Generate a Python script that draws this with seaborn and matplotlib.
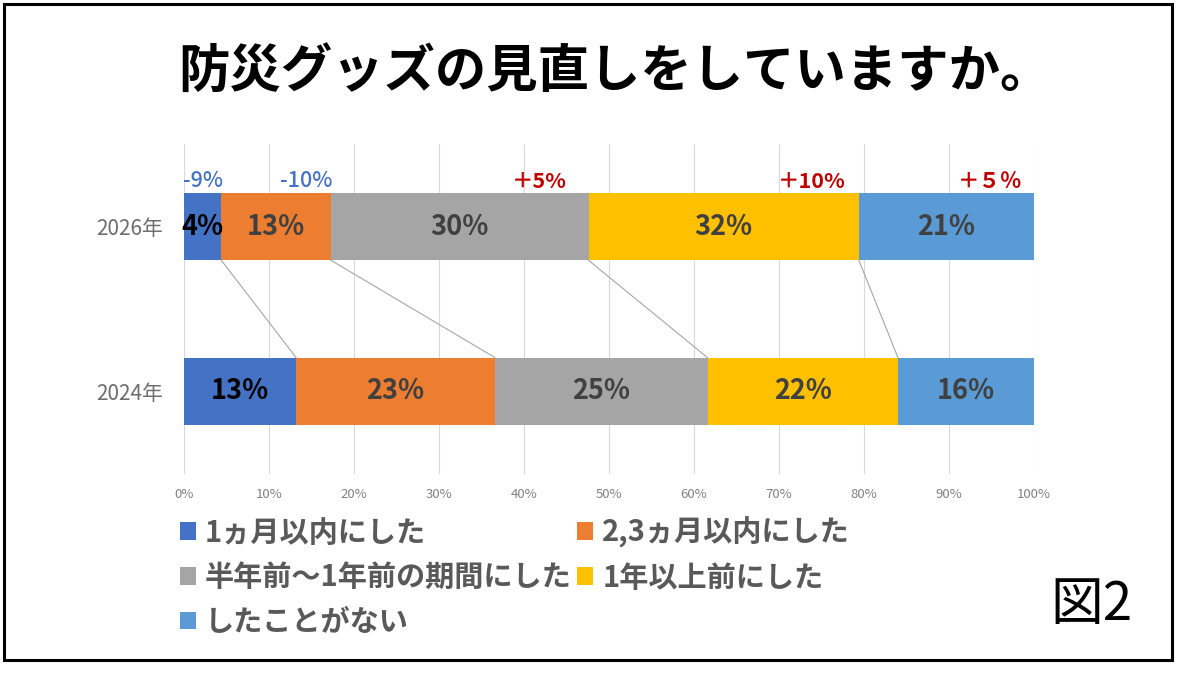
import pandas as pd
import seaborn as sns
import matplotlib.pyplot as plt
from matplotlib.patches import Patch, Rectangle

years = ["2026年", "2024年"]
answers = ["1ヵ月以内にした", "2,3ヵ月以内にした", "半年前～1年前の期間にした",
           "1年以上前にした", "したことがない"]
share_2026 = [4.4, 12.9, 30.3, 31.8, 20.6]
share_2024 = [13.2, 23.4, 25.0, 22.4, 16.0]
changes = ["-9%", "-10%", "＋5%", "＋10%", "＋５％"]
change_colors = ["#4472C4", "#4472C4", "#C00000", "#C00000", "#C00000"]
colors = ["#4472C4", "#ED7D31", "#A5A5A5", "#FFC000", "#5B9BD5"]
xticks = list(range(0, 101, 10))

sns.set_theme(style="white")
plt.rcParams['font.family'] = ['Noto Sans CJK JP', 'DejaVu Sans']

rows = []
for year, vals in zip(years, [share_2026, share_2024]):
    cum = 0
    for ans, v in zip(answers, vals):
        rows.append({"year": year, "answer": ans, "share": v,
                     "start": cum, "end": cum + v})
        cum += v
df = pd.DataFrame(rows)

fig = plt.figure(figsize=(11.77, 6.78), dpi=100)
ax = fig.add_axes([0.1563, 0.3009, 0.7222, 0.4867])

bar_w = 0.41
# draw cumulative totals from the last segment back to the first
for ans, col in reversed(list(zip(answers, colors))):
    sub = df[df["answer"] == ans]
    sns.barplot(data=sub, x="end", y="year", order=years, color=col,
                width=bar_w, orient="h", ax=ax, saturation=1,
                edgecolor="none", linewidth=0)

ax.set_xlim(0, 100)
ax.set_ylim(1.5, -0.5)
ax.set_xticks(xticks)
ax.set_xticklabels([f"{t}%" for t in xticks], fontsize=9.5, color="#808080")
ax.tick_params(axis="x", length=0, pad=10)
ax.tick_params(axis="y", length=0, pad=15, labelsize=15, labelcolor="#6E6E6E")
ax.set_xlabel("")
ax.set_ylabel("")
ax.grid(axis="x", color="#D9D9D9", linewidth=0.8)
ax.grid(axis="y", visible=False)
ax.set_axisbelow(True)
for s in ax.spines.values():
    s.set_visible(False)

# value labels
for _, r in df.iterrows():
    yi = years.index(r["year"])
    first = r["answer"] == answers[0]
    ax.text((r["start"] + r["end"]) / 2, yi, f"{round(r['share'])}%",
            ha="center", va="center", fontsize=19.5, fontweight="bold",
            color="black" if first else "#404040", zorder=5)

# series lines between the bars
top = df[df["year"] == years[0]]["end"].tolist()
bot = df[df["year"] == years[1]]["end"].tolist()
for a, b in zip(top[:-1], bot[:-1]):
    ax.plot([a, b], [bar_w / 2, 1 - bar_w / 2], color="#A6A6A6",
            linewidth=0.8, zorder=1)

# change annotations above the 2026 bar
shift = [-0.2, -0.2, 2.6, 1.5, 1.4]
for end, txt, col, sh in zip(top, changes, change_colors, shift):
    ax.text(end - sh, -bar_w / 2 - 0.005, txt, ha="right", va="bottom",
            fontsize=15.5, color=col,
            fontweight="bold" if col == "#C00000" else "medium")

# legend in row order
handles = [Patch(facecolor=c, edgecolor="none") for c in colors]
order = [0, 2, 4, 1, 3]
leg = fig.legend([handles[i] for i in order], [answers[i] for i in order],
                 ncol=2, loc="upper left", bbox_to_anchor=(0.153, 0.238),
                 frameon=False, fontsize=21, handlelength=0.55,
                 handleheight=0.55, handletextpad=0.3, columnspacing=0.2,
                 labelspacing=0.5, borderaxespad=0, borderpad=0)
for t in leg.get_texts():
    t.set_color("#595959")
    t.set_fontweight("bold")

fig.text(0.5225, 0.894, "防災グッズの見直しをしていますか。", ha="center",
         va="center", fontsize=37, fontweight="bold", color="black")
fig.text(0.927, 0.109, "図2", ha="center", va="center", fontsize=38,
         color="black")

fig.patches.append(Rectangle((4 / 1177, 18 / 678), 1168 / 1177, 656 / 678,
                             transform=fig.transFigure, fill=False,
                             edgecolor="black", linewidth=2.2))

fig.savefig("out.png", dpi=100)
